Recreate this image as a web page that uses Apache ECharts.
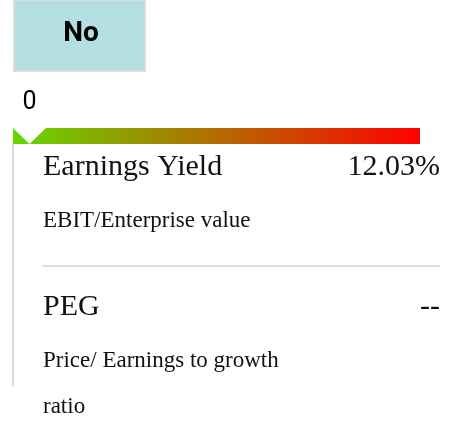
<!DOCTYPE html>
<html>
<head>
<meta charset="utf-8">
<script src="https://cdn.jsdelivr.net/npm/echarts@6/dist/echarts.min.js"></script>
<style>
    html, body { margin: 0; padding: 0; background: #fff; }
    #chart { width: 458px; height: 422px; }
</style>
</head>
<body>
<div id="chart"></div>
<script>
// verdict badge and score scale
const verdict = 'No';
const score = [0];
const scaleMax = [100];

// metric rows
const metricNames = ['Earnings Yield', 'PEG'];
const metricValues = ['12.03%', '--'];
const metricNotes = ['EBIT/Enterprise value', 'Price/ Earnings to growth ratio'];

const chart = echarts.init(document.getElementById('chart'));

/**
 * build the metric rows as graphic text
 */
function metricGraphics() {
    const items = [];
    metricNames.forEach((name, i) => {
        const top = 140 * i;
        items.push({
            type: 'text',
            x: 43,
            y: 167 + top,
            style: {
                text: name,
                font: '30px "Liberation Serif"',
                fill: '#111',
                verticalAlign: 'middle'
            }
        });
        items.push({
            type: 'text',
            x: 440,
            y: 167 + top,
            style: {
                text: metricValues[i],
                font: '30px "Liberation Serif"',
                fill: '#111',
                align: 'right',
                verticalAlign: 'middle'
            }
        });
        items.push({
            type: 'text',
            x: 43,
            y: 198 + top,
            style: {
                text: metricNotes[i],
                font: '23px "Liberation Serif"',
                fill: '#111',
                width: 250,
                overflow: 'break',
                lineHeight: 46,
                verticalAlign: 'top'
            }
        });
        if (i < metricNames.length - 1) {
            items.push({
                type: 'line',
                shape: { x1: 42, y1: 266 + top, x2: 440, y2: 266 + top },
                style: { stroke: '#dddddd', lineWidth: 2 }
            });
        }
    });
    return items;
}

chart.setOption({
    animation: false,
    grid: {
        left: 13,
        top: 128,
        width: 407,
        height: 16
    },
    xAxis: {
        type: 'value',
        min: 0,
        max: scaleMax[0],
        show: false
    },
    yAxis: {
        type: 'category',
        data: ['scale'],
        show: false
    },
    graphic: [
        {
            type: 'rect',
            shape: { x: 14, y: 0, width: 131, height: 71 },
            style: { fill: '#b3dfe3', stroke: '#dcdcdc', lineWidth: 2 }
        },
        {
            type: 'text',
            x: 81,
            y: 34,
            style: {
                text: verdict,
                font: 'bold 28px Roboto',
                fill: '#000',
                align: 'center',
                verticalAlign: 'middle'
            }
        },
        {
            type: 'line',
            shape: { x1: 13, y1: 144, x2: 13, y2: 387 },
            style: { stroke: '#dddddd', lineWidth: 2 }
        }
    ].concat(metricGraphics()),
    series: [
        {
            type: 'bar',
            data: scaleMax,
            barWidth: 16,
            silent: true,
            itemStyle: {
                color: new echarts.graphic.LinearGradient(0, 0, 1, 0, [
                    { offset: 0, color: '#66d800' },
                    { offset: 1, color: '#ff0000' }
                ])
            }
        },
        {
            type: 'scatter',
            data: score.map(v => [v, 'scale']),
            symbol: 'triangle',
            symbolRotate: 180,
            symbolSize: [33, 16],
            symbolOffset: [16.5, 0],
            itemStyle: { color: '#ffffff', opacity: 1 },
            label: {
                show: true,
                position: 'top',
                distance: 13,
                formatter: p => p.value[0],
                fontSize: 25,
                fontFamily: 'Roboto',
                color: '#000'
            }
        }
    ]
});
</script>
</body>
</html>
